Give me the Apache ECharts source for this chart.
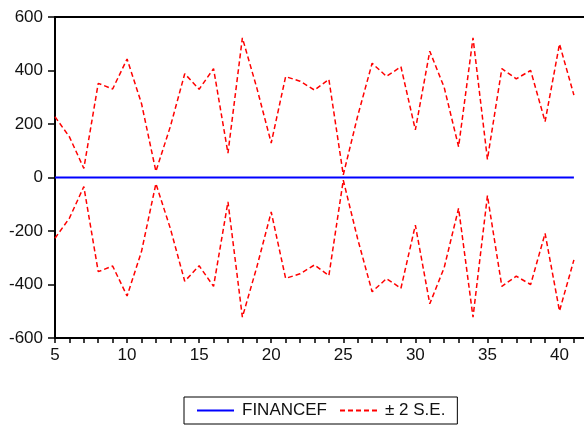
<!DOCTYPE html>
<html>
<head>
<meta charset="utf-8">
<script src="https://cdn.jsdelivr.net/npm/echarts@6/dist/echarts.min.js"></script>
<style>
html,body{margin:0;padding:0;background:#fff;}
#chart{width:584px;height:432px;}
</style>
</head>
<body>
<div id="chart"></div>
<script>
// Data
var periods = [5,6,7,8,9,10,11,12,13,14,15,16,17,18,19,20,21,22,23,24,25,26,27,28,29,30,31,32,33,34,35,36,37,38,39,40,41];
var financef = [0,0,0,0,0,0,0,0,0,0,0,0,0,0,0,0,0,0,0,0,0,0,0,0,0,0,0,0,0,0,0,0,0,0,0,0,0];
var upperSE = [227,152,34,352,331,443,277,23,190,388,330,407,91,522,335,129,377,360,327,367,10,230,427,378,414,178,472,337,115,522,68,407,369,400,209,499,308];
var lowerSE = [-227,-152,-34,-352,-331,-443,-277,-23,-190,-388,-330,-407,-91,-522,-335,-129,-377,-360,-327,-367,-10,-230,-427,-378,-414,-178,-472,-337,-115,-522,-68,-407,-369,-400,-209,-499,-308];
var yTicks = [-600,-400,-200,0,200,400,600];

function pairs(xs, ys){ return xs.map(function(x,i){ return [x, ys[i]]; }); }

var font = 'Arial, "Liberation Sans", sans-serif';
var chart = echarts.init(document.getElementById('chart'), null, {renderer:'canvas'});
chart.setOption({
  animation:false,
  backgroundColor:'#fff',
  textStyle:{fontFamily:font},
  grid:{left:55, right:0, top:17, bottom:94, containLabel:false},
  legend:{
    left:184, top:397,
    padding:[5,12,5,12],
    borderColor:'#000', borderWidth:1,
    itemWidth:37, itemHeight:14, itemGap:12,
    itemStyle:{opacity:0, borderWidth:0},
    textStyle:{fontFamily:font, fontSize:17, color:'#111', padding:[0,0,0,3]},
    data:['FINANCEF','± 2 S.E.']
  },
  xAxis:[{
    type:'value', min:5, max:41.7, interval:1,
    position:'bottom',
    axisLine:{show:true, onZero:false, lineStyle:{color:'#000', width:2}},
    axisTick:{show:true, length:5, lineStyle:{color:'#000', width:1.5}},
    splitLine:{show:false},
    axisLabel:{margin:9, fontSize:17, color:'#111', fontFamily:font,
      showMaxLabel:false,
      formatter:function(v){ return (v%5===0)? String(v) : ''; }}
  },{
    type:'value', min:5, max:41.7, position:'top',
    axisLine:{show:true, onZero:false, lineStyle:{color:'#000', width:2}},
    axisTick:{show:false}, axisLabel:{show:false}, splitLine:{show:false}
  }],
  yAxis:{
    type:'value', min:yTicks[0], max:yTicks[yTicks.length-1], interval:200,
    axisLine:{show:true, onZero:false, lineStyle:{color:'#000', width:2}},
    axisTick:{show:true, length:7, lineStyle:{color:'#000', width:1.5}},
    splitLine:{show:false},
    axisLabel:{margin:12, fontSize:17, color:'#111', fontFamily:font}
  },
  series:[{
    name:'FINANCEF', type:'line', data:pairs(periods, financef),
    symbol:'none', showSymbol:false,
    lineStyle:{color:'#0000ff', width:1.8},
    itemStyle:{color:'#0000ff'}
  },{
    name:'± 2 S.E.', type:'line', data:pairs(periods, upperSE),
    symbol:'none', showSymbol:false,
    lineStyle:{color:'#ff0000', width:1.5, type:[5,3]},
    itemStyle:{color:'#ff0000'}
  },{
    name:'± 2 S.E.', type:'line', data:pairs(periods, lowerSE),
    symbol:'none', showSymbol:false,
    lineStyle:{color:'#ff0000', width:1.5, type:[5,3]},
    itemStyle:{color:'#ff0000'}
  }]
});
</script>
</body>
</html>
